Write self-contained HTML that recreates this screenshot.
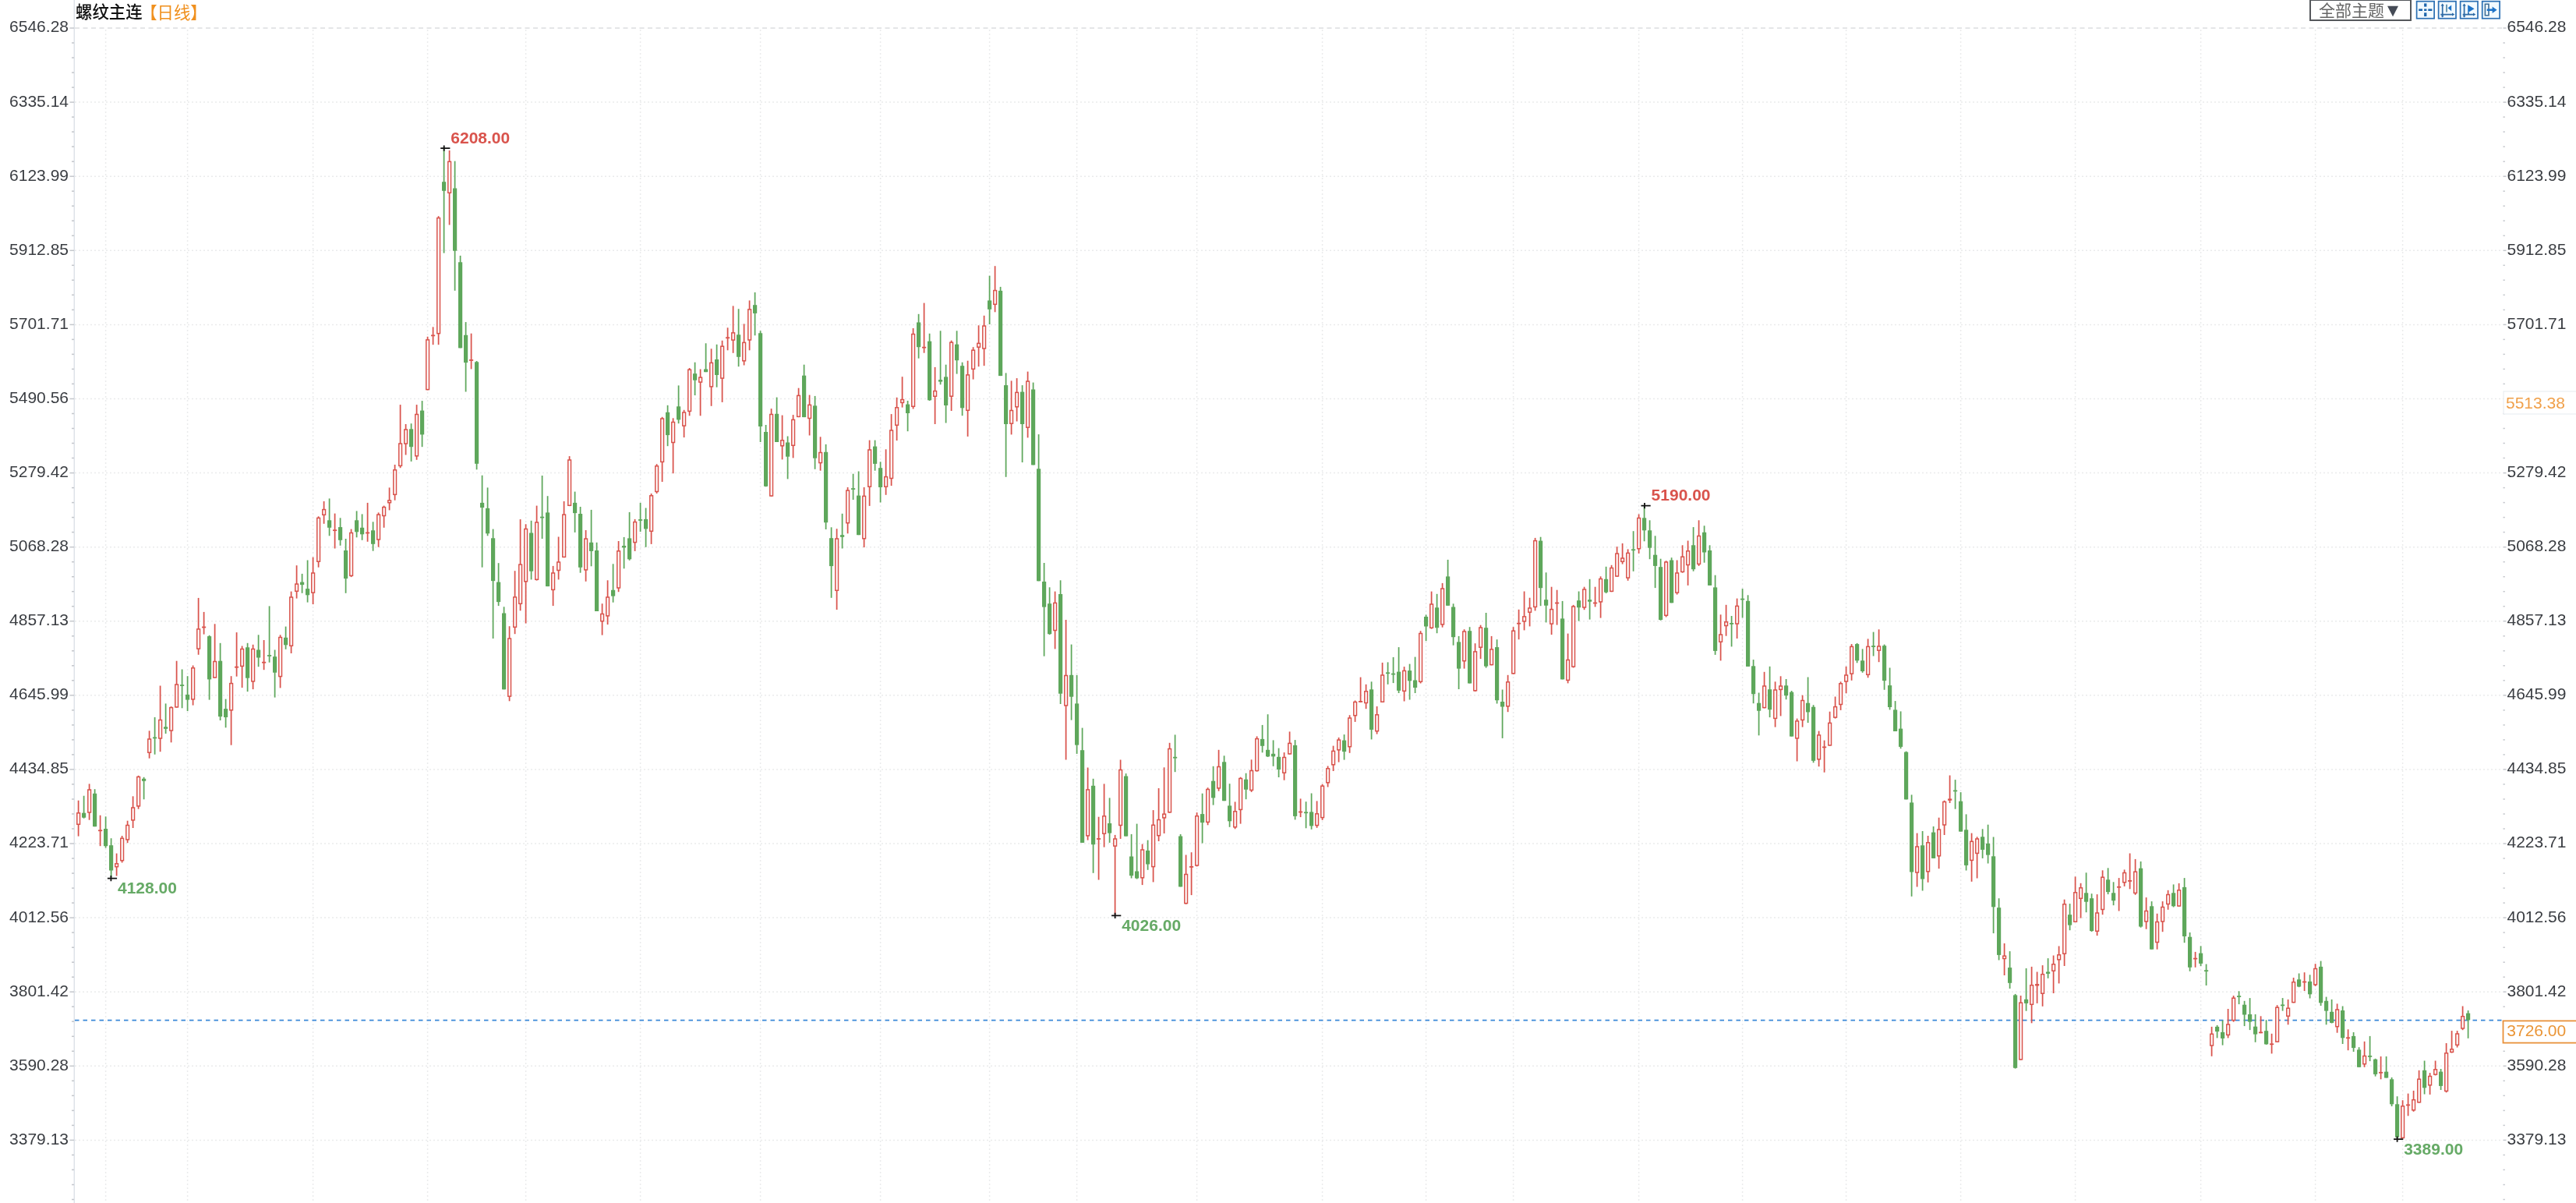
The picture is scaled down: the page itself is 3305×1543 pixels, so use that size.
<!DOCTYPE html>
<html><head><meta charset="utf-8"><title>螺纹主连</title>
<style>
html,body{margin:0;padding:0;background:#fff;}
body{width:3305px;height:1543px;position:relative;overflow:hidden;}
.t{position:absolute;white-space:nowrap;font-family:"Liberation Sans","Noto Sans CJK SC",sans-serif;}
#w{position:absolute;left:0;top:0;width:3305px;height:1543px;filter:blur(0.5px);}
</style></head><body><div id="w">
<svg width="3305" height="1543" viewBox="0 0 3305 1543" style="position:absolute;left:0;top:0"><g stroke="#eaebec" stroke-width="1.5" stroke-dasharray="2 3"><line x1="96" y1="131.1" x2="3211" y2="131.1"/><line x1="96" y1="226.2" x2="3211" y2="226.2"/><line x1="96" y1="321.3" x2="3211" y2="321.3"/><line x1="96" y1="416.4" x2="3211" y2="416.4"/><line x1="96" y1="511.5" x2="3211" y2="511.5"/><line x1="96" y1="606.6" x2="3211" y2="606.6"/><line x1="96" y1="701.7" x2="3211" y2="701.7"/><line x1="96" y1="796.7" x2="3211" y2="796.7"/><line x1="96" y1="891.8" x2="3211" y2="891.8"/><line x1="96" y1="986.9" x2="3211" y2="986.9"/><line x1="96" y1="1082" x2="3211" y2="1082"/><line x1="96" y1="1177.1" x2="3211" y2="1177.1"/><line x1="96" y1="1272.2" x2="3211" y2="1272.2"/><line x1="96" y1="1367.3" x2="3211" y2="1367.3"/><line x1="96" y1="1462.4" x2="3211" y2="1462.4"/><line x1="135.6" y1="38" x2="135.6" y2="1543"/><line x1="240.6" y1="38" x2="240.6" y2="1543"/><line x1="401.6" y1="38" x2="401.6" y2="1543"/><line x1="548.6" y1="38" x2="548.6" y2="1543"/><line x1="674.6" y1="38" x2="674.6" y2="1543"/><line x1="821.6" y1="38" x2="821.6" y2="1543"/><line x1="975.6" y1="38" x2="975.6" y2="1543"/><line x1="1129.6" y1="38" x2="1129.6" y2="1543"/><line x1="1269.6" y1="38" x2="1269.6" y2="1543"/><line x1="1381.6" y1="38" x2="1381.6" y2="1543"/><line x1="1535.6" y1="38" x2="1535.6" y2="1543"/><line x1="1696.6" y1="38" x2="1696.6" y2="1543"/><line x1="1829.6" y1="38" x2="1829.6" y2="1543"/><line x1="1941.6" y1="38" x2="1941.6" y2="1543"/><line x1="2102.6" y1="38" x2="2102.6" y2="1543"/><line x1="2235.6" y1="38" x2="2235.6" y2="1543"/><line x1="2368.6" y1="38" x2="2368.6" y2="1543"/><line x1="2515.6" y1="38" x2="2515.6" y2="1543"/><line x1="2662.6" y1="38" x2="2662.6" y2="1543"/><line x1="2823.6" y1="38" x2="2823.6" y2="1543"/><line x1="2970.6" y1="38" x2="2970.6" y2="1543"/><line x1="3082.6" y1="38" x2="3082.6" y2="1543"/></g><line x1="96" y1="36" x2="3211" y2="36" stroke="#e4e5e7" stroke-width="1.8" stroke-dasharray="6 4.5"/><line x1="95.3" y1="0" x2="95.3" y2="1543" stroke="#dde2e8" stroke-width="1.5"/><g stroke="#c4c7cc" stroke-width="1.5"><line x1="89.5" y1="36" x2="95" y2="36"/><line x1="3211.5" y1="36" x2="3215.5" y2="36"/><line x1="92" y1="55" x2="95" y2="55"/><line x1="3211.5" y1="55" x2="3213.8" y2="55"/><line x1="92" y1="74" x2="95" y2="74"/><line x1="3211.5" y1="74" x2="3213.8" y2="74"/><line x1="92" y1="93.1" x2="95" y2="93.1"/><line x1="3211.5" y1="93.1" x2="3213.8" y2="93.1"/><line x1="92" y1="112.1" x2="95" y2="112.1"/><line x1="3211.5" y1="112.1" x2="3213.8" y2="112.1"/><line x1="89.5" y1="131.1" x2="95" y2="131.1"/><line x1="3211.5" y1="131.1" x2="3215.5" y2="131.1"/><line x1="92" y1="150.1" x2="95" y2="150.1"/><line x1="3211.5" y1="150.1" x2="3213.8" y2="150.1"/><line x1="92" y1="169.1" x2="95" y2="169.1"/><line x1="3211.5" y1="169.1" x2="3213.8" y2="169.1"/><line x1="92" y1="188.1" x2="95" y2="188.1"/><line x1="3211.5" y1="188.1" x2="3213.8" y2="188.1"/><line x1="92" y1="207.2" x2="95" y2="207.2"/><line x1="3211.5" y1="207.2" x2="3213.8" y2="207.2"/><line x1="89.5" y1="226.2" x2="95" y2="226.2"/><line x1="3211.5" y1="226.2" x2="3215.5" y2="226.2"/><line x1="92" y1="245.2" x2="95" y2="245.2"/><line x1="3211.5" y1="245.2" x2="3213.8" y2="245.2"/><line x1="92" y1="264.2" x2="95" y2="264.2"/><line x1="3211.5" y1="264.2" x2="3213.8" y2="264.2"/><line x1="92" y1="283.2" x2="95" y2="283.2"/><line x1="3211.5" y1="283.2" x2="3213.8" y2="283.2"/><line x1="92" y1="302.3" x2="95" y2="302.3"/><line x1="3211.5" y1="302.3" x2="3213.8" y2="302.3"/><line x1="89.5" y1="321.3" x2="95" y2="321.3"/><line x1="3211.5" y1="321.3" x2="3215.5" y2="321.3"/><line x1="92" y1="340.3" x2="95" y2="340.3"/><line x1="3211.5" y1="340.3" x2="3213.8" y2="340.3"/><line x1="92" y1="359.3" x2="95" y2="359.3"/><line x1="3211.5" y1="359.3" x2="3213.8" y2="359.3"/><line x1="92" y1="378.3" x2="95" y2="378.3"/><line x1="3211.5" y1="378.3" x2="3213.8" y2="378.3"/><line x1="92" y1="397.4" x2="95" y2="397.4"/><line x1="3211.5" y1="397.4" x2="3213.8" y2="397.4"/><line x1="89.5" y1="416.4" x2="95" y2="416.4"/><line x1="3211.5" y1="416.4" x2="3215.5" y2="416.4"/><line x1="92" y1="435.4" x2="95" y2="435.4"/><line x1="3211.5" y1="435.4" x2="3213.8" y2="435.4"/><line x1="92" y1="454.4" x2="95" y2="454.4"/><line x1="3211.5" y1="454.4" x2="3213.8" y2="454.4"/><line x1="92" y1="473.4" x2="95" y2="473.4"/><line x1="3211.5" y1="473.4" x2="3213.8" y2="473.4"/><line x1="92" y1="492.4" x2="95" y2="492.4"/><line x1="3211.5" y1="492.4" x2="3213.8" y2="492.4"/><line x1="89.5" y1="511.5" x2="95" y2="511.5"/><line x1="3211.5" y1="511.5" x2="3215.5" y2="511.5"/><line x1="92" y1="530.5" x2="95" y2="530.5"/><line x1="3211.5" y1="530.5" x2="3213.8" y2="530.5"/><line x1="92" y1="549.5" x2="95" y2="549.5"/><line x1="3211.5" y1="549.5" x2="3213.8" y2="549.5"/><line x1="92" y1="568.5" x2="95" y2="568.5"/><line x1="3211.5" y1="568.5" x2="3213.8" y2="568.5"/><line x1="92" y1="587.5" x2="95" y2="587.5"/><line x1="3211.5" y1="587.5" x2="3213.8" y2="587.5"/><line x1="89.5" y1="606.6" x2="95" y2="606.6"/><line x1="3211.5" y1="606.6" x2="3215.5" y2="606.6"/><line x1="92" y1="625.6" x2="95" y2="625.6"/><line x1="3211.5" y1="625.6" x2="3213.8" y2="625.6"/><line x1="92" y1="644.6" x2="95" y2="644.6"/><line x1="3211.5" y1="644.6" x2="3213.8" y2="644.6"/><line x1="92" y1="663.6" x2="95" y2="663.6"/><line x1="3211.5" y1="663.6" x2="3213.8" y2="663.6"/><line x1="92" y1="682.6" x2="95" y2="682.6"/><line x1="3211.5" y1="682.6" x2="3213.8" y2="682.6"/><line x1="89.5" y1="701.7" x2="95" y2="701.7"/><line x1="3211.5" y1="701.7" x2="3215.5" y2="701.7"/><line x1="92" y1="720.7" x2="95" y2="720.7"/><line x1="3211.5" y1="720.7" x2="3213.8" y2="720.7"/><line x1="92" y1="739.7" x2="95" y2="739.7"/><line x1="3211.5" y1="739.7" x2="3213.8" y2="739.7"/><line x1="92" y1="758.7" x2="95" y2="758.7"/><line x1="3211.5" y1="758.7" x2="3213.8" y2="758.7"/><line x1="92" y1="777.7" x2="95" y2="777.7"/><line x1="3211.5" y1="777.7" x2="3213.8" y2="777.7"/><line x1="89.5" y1="796.7" x2="95" y2="796.7"/><line x1="3211.5" y1="796.7" x2="3215.5" y2="796.7"/><line x1="92" y1="815.8" x2="95" y2="815.8"/><line x1="3211.5" y1="815.8" x2="3213.8" y2="815.8"/><line x1="92" y1="834.8" x2="95" y2="834.8"/><line x1="3211.5" y1="834.8" x2="3213.8" y2="834.8"/><line x1="92" y1="853.8" x2="95" y2="853.8"/><line x1="3211.5" y1="853.8" x2="3213.8" y2="853.8"/><line x1="92" y1="872.8" x2="95" y2="872.8"/><line x1="3211.5" y1="872.8" x2="3213.8" y2="872.8"/><line x1="89.5" y1="891.8" x2="95" y2="891.8"/><line x1="3211.5" y1="891.8" x2="3215.5" y2="891.8"/><line x1="92" y1="910.9" x2="95" y2="910.9"/><line x1="3211.5" y1="910.9" x2="3213.8" y2="910.9"/><line x1="92" y1="929.9" x2="95" y2="929.9"/><line x1="3211.5" y1="929.9" x2="3213.8" y2="929.9"/><line x1="92" y1="948.9" x2="95" y2="948.9"/><line x1="3211.5" y1="948.9" x2="3213.8" y2="948.9"/><line x1="92" y1="967.9" x2="95" y2="967.9"/><line x1="3211.5" y1="967.9" x2="3213.8" y2="967.9"/><line x1="89.5" y1="986.9" x2="95" y2="986.9"/><line x1="3211.5" y1="986.9" x2="3215.5" y2="986.9"/><line x1="92" y1="1005.9" x2="95" y2="1005.9"/><line x1="3211.5" y1="1005.9" x2="3213.8" y2="1005.9"/><line x1="92" y1="1025" x2="95" y2="1025"/><line x1="3211.5" y1="1025" x2="3213.8" y2="1025"/><line x1="92" y1="1044" x2="95" y2="1044"/><line x1="3211.5" y1="1044" x2="3213.8" y2="1044"/><line x1="92" y1="1063" x2="95" y2="1063"/><line x1="3211.5" y1="1063" x2="3213.8" y2="1063"/><line x1="89.5" y1="1082" x2="95" y2="1082"/><line x1="3211.5" y1="1082" x2="3215.5" y2="1082"/><line x1="92" y1="1101" x2="95" y2="1101"/><line x1="3211.5" y1="1101" x2="3213.8" y2="1101"/><line x1="92" y1="1120.1" x2="95" y2="1120.1"/><line x1="3211.5" y1="1120.1" x2="3213.8" y2="1120.1"/><line x1="92" y1="1139.1" x2="95" y2="1139.1"/><line x1="3211.5" y1="1139.1" x2="3213.8" y2="1139.1"/><line x1="92" y1="1158.1" x2="95" y2="1158.1"/><line x1="3211.5" y1="1158.1" x2="3213.8" y2="1158.1"/><line x1="89.5" y1="1177.1" x2="95" y2="1177.1"/><line x1="3211.5" y1="1177.1" x2="3215.5" y2="1177.1"/><line x1="92" y1="1196.1" x2="95" y2="1196.1"/><line x1="3211.5" y1="1196.1" x2="3213.8" y2="1196.1"/><line x1="92" y1="1215.2" x2="95" y2="1215.2"/><line x1="3211.5" y1="1215.2" x2="3213.8" y2="1215.2"/><line x1="92" y1="1234.2" x2="95" y2="1234.2"/><line x1="3211.5" y1="1234.2" x2="3213.8" y2="1234.2"/><line x1="92" y1="1253.2" x2="95" y2="1253.2"/><line x1="3211.5" y1="1253.2" x2="3213.8" y2="1253.2"/><line x1="89.5" y1="1272.2" x2="95" y2="1272.2"/><line x1="3211.5" y1="1272.2" x2="3215.5" y2="1272.2"/><line x1="92" y1="1291.2" x2="95" y2="1291.2"/><line x1="3211.5" y1="1291.2" x2="3213.8" y2="1291.2"/><line x1="92" y1="1310.2" x2="95" y2="1310.2"/><line x1="3211.5" y1="1310.2" x2="3213.8" y2="1310.2"/><line x1="92" y1="1329.3" x2="95" y2="1329.3"/><line x1="3211.5" y1="1329.3" x2="3213.8" y2="1329.3"/><line x1="92" y1="1348.3" x2="95" y2="1348.3"/><line x1="3211.5" y1="1348.3" x2="3213.8" y2="1348.3"/><line x1="89.5" y1="1367.3" x2="95" y2="1367.3"/><line x1="3211.5" y1="1367.3" x2="3215.5" y2="1367.3"/><line x1="92" y1="1386.3" x2="95" y2="1386.3"/><line x1="3211.5" y1="1386.3" x2="3213.8" y2="1386.3"/><line x1="92" y1="1405.3" x2="95" y2="1405.3"/><line x1="3211.5" y1="1405.3" x2="3213.8" y2="1405.3"/><line x1="92" y1="1424.4" x2="95" y2="1424.4"/><line x1="3211.5" y1="1424.4" x2="3213.8" y2="1424.4"/><line x1="92" y1="1443.4" x2="95" y2="1443.4"/><line x1="3211.5" y1="1443.4" x2="3213.8" y2="1443.4"/><line x1="89.5" y1="1462.4" x2="95" y2="1462.4"/><line x1="3211.5" y1="1462.4" x2="3215.5" y2="1462.4"/><line x1="92" y1="1481.4" x2="95" y2="1481.4"/><line x1="3211.5" y1="1481.4" x2="3213.8" y2="1481.4"/><line x1="92" y1="1500.4" x2="95" y2="1500.4"/><line x1="3211.5" y1="1500.4" x2="3213.8" y2="1500.4"/><line x1="92" y1="1519.5" x2="95" y2="1519.5"/><line x1="3211.5" y1="1519.5" x2="3213.8" y2="1519.5"/><line x1="92" y1="1538.5" x2="95" y2="1538.5"/><line x1="3211.5" y1="1538.5" x2="3213.8" y2="1538.5"/></g><g font-family="Liberation Sans, Arial, sans-serif" font-size="21" fill="#3a3d42"><text x="88" y="41.4" text-anchor="end">6546.28</text><text x="3216.5" y="41.4">6546.28</text><text x="88" y="136.5" text-anchor="end">6335.14</text><text x="3216.5" y="136.5">6335.14</text><text x="88" y="231.6" text-anchor="end">6123.99</text><text x="3216.5" y="231.6">6123.99</text><text x="88" y="326.7" text-anchor="end">5912.85</text><text x="3216.5" y="326.7">5912.85</text><text x="88" y="421.8" text-anchor="end">5701.71</text><text x="3216.5" y="421.8">5701.71</text><text x="88" y="516.9" text-anchor="end">5490.56</text><text x="88" y="612" text-anchor="end">5279.42</text><text x="3216.5" y="612">5279.42</text><text x="88" y="707.1" text-anchor="end">5068.28</text><text x="3216.5" y="707.1">5068.28</text><text x="88" y="802.1" text-anchor="end">4857.13</text><text x="3216.5" y="802.1">4857.13</text><text x="88" y="897.2" text-anchor="end">4645.99</text><text x="3216.5" y="897.2">4645.99</text><text x="88" y="992.3" text-anchor="end">4434.85</text><text x="3216.5" y="992.3">4434.85</text><text x="88" y="1087.4" text-anchor="end">4223.71</text><text x="3216.5" y="1087.4">4223.71</text><text x="88" y="1182.5" text-anchor="end">4012.56</text><text x="3216.5" y="1182.5">4012.56</text><text x="88" y="1277.6" text-anchor="end">3801.42</text><text x="3216.5" y="1277.6">3801.42</text><text x="88" y="1372.7" text-anchor="end">3590.28</text><text x="3216.5" y="1372.7">3590.28</text><text x="88" y="1467.8" text-anchor="end">3379.13</text><text x="3216.5" y="1467.8">3379.13</text></g><line x1="96" y1="1308.6" x2="3211" y2="1308.6" stroke="#3a88d8" stroke-width="1.9" stroke-dasharray="5.5 5"/><g stroke="#d9534c" stroke-width="1.75"><line x1="100.6" y1="1026.7" x2="100.6" y2="1072.6"/><line x1="114.6" y1="1005.4" x2="114.6" y2="1051.7"/><line x1="128.6" y1="1045.7" x2="128.6" y2="1085.2"/><line x1="149.6" y1="1094.6" x2="149.6" y2="1123.5"/><line x1="156.6" y1="1072" x2="156.6" y2="1106.5"/><line x1="163.6" y1="1052.7" x2="163.6" y2="1081.2"/><line x1="170.6" y1="1021.3" x2="170.6" y2="1062"/><line x1="177.6" y1="994.8" x2="177.6" y2="1037.7"/><line x1="191.6" y1="937.3" x2="191.6" y2="972.7"/><line x1="205.6" y1="879.5" x2="205.6" y2="964.2"/><line x1="219.6" y1="906.1" x2="219.6" y2="952.3"/><line x1="226.6" y1="847.7" x2="226.6" y2="907.6"/><line x1="247.6" y1="853.5" x2="247.6" y2="904.6"/><line x1="254.6" y1="766.9" x2="254.6" y2="839.8"/><line x1="261.6" y1="784.9" x2="261.6" y2="813.6"/><line x1="275.6" y1="800.3" x2="275.6" y2="869.7"/><line x1="296.6" y1="867.2" x2="296.6" y2="955.7"/><line x1="303.6" y1="811.1" x2="303.6" y2="867.7"/><line x1="310.6" y1="828.5" x2="310.6" y2="882.1"/><line x1="324.6" y1="826.8" x2="324.6" y2="884.1"/><line x1="338.6" y1="821" x2="338.6" y2="859.2"/><line x1="359.6" y1="814.3" x2="359.6" y2="882.4"/><line x1="373.6" y1="758.6" x2="373.6" y2="838"/><line x1="380.6" y1="725.2" x2="380.6" y2="767.6"/><line x1="401.6" y1="714.7" x2="401.6" y2="775.1"/><line x1="408.6" y1="662.3" x2="408.6" y2="727.7"/><line x1="415.6" y1="642.9" x2="415.6" y2="671.8"/><line x1="429.6" y1="658.6" x2="429.6" y2="703.5"/><line x1="450.6" y1="678.6" x2="450.6" y2="740.1"/><line x1="471.6" y1="644.9" x2="471.6" y2="694.8"/><line x1="485.6" y1="657.4" x2="485.6" y2="701.7"/><line x1="492.6" y1="648.6" x2="492.6" y2="676.8"/><line x1="499.6" y1="625.4" x2="499.6" y2="654.4"/><line x1="506.6" y1="596" x2="506.6" y2="641.7"/><line x1="513.6" y1="519.1" x2="513.6" y2="600.2"/><line x1="520.6" y1="544" x2="520.6" y2="583.5"/><line x1="534.6" y1="519.1" x2="534.6" y2="589.8"/><line x1="548.6" y1="431.8" x2="548.6" y2="500.4"/><line x1="555.6" y1="419.4" x2="555.6" y2="442.2"/><line x1="562.6" y1="277.2" x2="562.6" y2="442.2"/><line x1="576.6" y1="192.9" x2="576.6" y2="288.5"/><line x1="604.6" y1="427.7" x2="604.6" y2="473.4"/><line x1="653.6" y1="803.2" x2="653.6" y2="899.3"/><line x1="660.6" y1="732.2" x2="660.6" y2="813.2"/><line x1="667.6" y1="666.1" x2="667.6" y2="783.3"/><line x1="674.6" y1="672.3" x2="674.6" y2="799.5"/><line x1="688.6" y1="648.6" x2="688.6" y2="744.6"/><line x1="709.6" y1="725.9" x2="709.6" y2="777.1"/><line x1="716.6" y1="688.5" x2="716.6" y2="743.4"/><line x1="723.6" y1="642.9" x2="723.6" y2="715.2"/><line x1="730.6" y1="585.1" x2="730.6" y2="649.1"/><line x1="751.6" y1="680" x2="751.6" y2="745.8"/><line x1="772.6" y1="774.2" x2="772.6" y2="814.6"/><line x1="779.6" y1="744.3" x2="779.6" y2="801.1"/><line x1="793.6" y1="694" x2="793.6" y2="759.2"/><line x1="814.6" y1="665.9" x2="814.6" y2="706.9"/><line x1="835.6" y1="633" x2="835.6" y2="697.9"/><line x1="842.6" y1="595.2" x2="842.6" y2="633"/><line x1="849.6" y1="534.8" x2="849.6" y2="618"/><line x1="863.6" y1="536.3" x2="863.6" y2="607.2"/><line x1="877.6" y1="525.8" x2="877.6" y2="561.1"/><line x1="884.6" y1="472" x2="884.6" y2="533.3"/><line x1="898.6" y1="473.5" x2="898.6" y2="533.3"/><line x1="912.6" y1="447.3" x2="912.6" y2="520.8"/><line x1="926.6" y1="436.8" x2="926.6" y2="515.9"/><line x1="933.6" y1="420.3" x2="933.6" y2="449.3"/><line x1="940.6" y1="392.4" x2="940.6" y2="452.8"/><line x1="954.6" y1="415.4" x2="954.6" y2="468.5"/><line x1="961.6" y1="385.4" x2="961.6" y2="449.3"/><line x1="989.6" y1="524.1" x2="989.6" y2="636.8"/><line x1="1003.6" y1="532.6" x2="1003.6" y2="589.4"/><line x1="1017.6" y1="532.1" x2="1017.6" y2="587.4"/><line x1="1024.6" y1="497.7" x2="1024.6" y2="535.1"/><line x1="1038.6" y1="506.6" x2="1038.6" y2="558.5"/><line x1="1052.6" y1="560.3" x2="1052.6" y2="603.7"/><line x1="1073.6" y1="678.2" x2="1073.6" y2="782"/><line x1="1087.6" y1="625" x2="1087.6" y2="684.3"/><line x1="1108.6" y1="625" x2="1108.6" y2="702.1"/><line x1="1115.6" y1="564.6" x2="1115.6" y2="648.9"/><line x1="1136.6" y1="576.3" x2="1136.6" y2="634.8"/><line x1="1143.6" y1="531.1" x2="1143.6" y2="623.1"/><line x1="1150.6" y1="509.8" x2="1150.6" y2="565.1"/><line x1="1157.6" y1="483.2" x2="1157.6" y2="522.6"/><line x1="1171.6" y1="421" x2="1171.6" y2="524.5"/><line x1="1185.6" y1="388.6" x2="1185.6" y2="452.7"/><line x1="1199.6" y1="470.9" x2="1199.6" y2="544"/><line x1="1220.6" y1="436.7" x2="1220.6" y2="527"/><line x1="1241.6" y1="462.7" x2="1241.6" y2="559.9"/><line x1="1248.6" y1="445.2" x2="1248.6" y2="486.6"/><line x1="1255.6" y1="417.3" x2="1255.6" y2="470.2"/><line x1="1262.6" y1="404.8" x2="1262.6" y2="469.2"/><line x1="1276.6" y1="341.2" x2="1276.6" y2="400.3"/><line x1="1297.6" y1="488.4" x2="1297.6" y2="557.4"/><line x1="1304.6" y1="485.1" x2="1304.6" y2="540.5"/><line x1="1318.6" y1="476.6" x2="1318.6" y2="561.4"/><line x1="1353.6" y1="758.6" x2="1353.6" y2="832.4"/><line x1="1367.6" y1="795" x2="1367.6" y2="974.5"/><line x1="1395.6" y1="984.5" x2="1395.6" y2="1077.6"/><line x1="1409.6" y1="1047.7" x2="1409.6" y2="1128.5"/><line x1="1416.6" y1="1005.4" x2="1416.6" y2="1086.6"/><line x1="1430.6" y1="1070.9" x2="1430.6" y2="1174"/><line x1="1437.6" y1="974.5" x2="1437.6" y2="1075.9"/><line x1="1465.6" y1="1082.6" x2="1465.6" y2="1135.1"/><line x1="1479.6" y1="1039.1" x2="1479.6" y2="1131.4"/><line x1="1486.6" y1="1011" x2="1486.6" y2="1079"/><line x1="1493.6" y1="984.3" x2="1493.6" y2="1069"/><line x1="1500.6" y1="952.8" x2="1500.6" y2="1042.6"/><line x1="1521.6" y1="1096.5" x2="1521.6" y2="1159.8"/><line x1="1528.6" y1="1093.2" x2="1528.6" y2="1148.1"/><line x1="1535.6" y1="1042.1" x2="1535.6" y2="1111.4"/><line x1="1549.6" y1="1010.2" x2="1549.6" y2="1058.3"/><line x1="1563.6" y1="961.8" x2="1563.6" y2="1014.7"/><line x1="1584.6" y1="1028.4" x2="1584.6" y2="1063.3"/><line x1="1591.6" y1="996.7" x2="1591.6" y2="1056.6"/><line x1="1605.6" y1="974.3" x2="1605.6" y2="1015.9"/><line x1="1612.6" y1="944.4" x2="1612.6" y2="989.7"/><line x1="1647.6" y1="965.1" x2="1647.6" y2="1000.7"/><line x1="1654.6" y1="938.4" x2="1654.6" y2="967.6"/><line x1="1668.6" y1="1024.4" x2="1668.6" y2="1048.1"/><line x1="1689.6" y1="1027.4" x2="1689.6" y2="1061.8"/><line x1="1696.6" y1="1005.7" x2="1696.6" y2="1051.9"/><line x1="1703.6" y1="982.5" x2="1703.6" y2="1009.5"/><line x1="1710.6" y1="956.6" x2="1710.6" y2="989"/><line x1="1717.6" y1="945.9" x2="1717.6" y2="977.6"/><line x1="1731.6" y1="917.2" x2="1731.6" y2="965.8"/><line x1="1738.6" y1="898.5" x2="1738.6" y2="925.9"/><line x1="1745.6" y1="868.6" x2="1745.6" y2="901"/><line x1="1752.6" y1="877.8" x2="1752.6" y2="909.2"/><line x1="1766.6" y1="906" x2="1766.6" y2="941.6"/><line x1="1773.6" y1="849.9" x2="1773.6" y2="901"/><line x1="1801.6" y1="855.1" x2="1801.6" y2="899.5"/><line x1="1822.6" y1="809.2" x2="1822.6" y2="876.5"/><line x1="1836.6" y1="758.6" x2="1836.6" y2="806.7"/><line x1="1850.6" y1="747.9" x2="1850.6" y2="804.7"/><line x1="1878.6" y1="807.2" x2="1878.6" y2="857.6"/><line x1="1892.6" y1="825.2" x2="1892.6" y2="887"/><line x1="1899.6" y1="801.7" x2="1899.6" y2="845.1"/><line x1="1913.6" y1="815.9" x2="1913.6" y2="853.3"/><line x1="1934.6" y1="865.8" x2="1934.6" y2="913.2"/><line x1="1941.6" y1="804.2" x2="1941.6" y2="864.6"/><line x1="1948.6" y1="781.8" x2="1948.6" y2="820.2"/><line x1="1955.6" y1="758.5" x2="1955.6" y2="808.4"/><line x1="1962.6" y1="766.7" x2="1962.6" y2="803.4"/><line x1="1969.6" y1="689.9" x2="1969.6" y2="783.4"/><line x1="1990.6" y1="752.7" x2="1990.6" y2="814.1"/><line x1="1997.6" y1="756.7" x2="1997.6" y2="801.6"/><line x1="2011.6" y1="812.6" x2="2011.6" y2="876.4"/><line x1="2018.6" y1="775.9" x2="2018.6" y2="856.5"/><line x1="2032.6" y1="752.7" x2="2032.6" y2="782.2"/><line x1="2046.6" y1="752.7" x2="2046.6" y2="778.4"/><line x1="2053.6" y1="739.3" x2="2053.6" y2="792.6"/><line x1="2067.6" y1="724.8" x2="2067.6" y2="759.2"/><line x1="2074.6" y1="701.1" x2="2074.6" y2="739.8"/><line x1="2081.6" y1="696.9" x2="2081.6" y2="723.6"/><line x1="2088.6" y1="704.4" x2="2088.6" y2="744.8"/><line x1="2102.6" y1="659.5" x2="2102.6" y2="709.9"/><line x1="2137.6" y1="719.2" x2="2137.6" y2="791.5"/><line x1="2151.6" y1="718.5" x2="2151.6" y2="762.6"/><line x1="2158.6" y1="699.3" x2="2158.6" y2="734.7"/><line x1="2165.6" y1="693.5" x2="2165.6" y2="750.9"/><line x1="2179.6" y1="667.3" x2="2179.6" y2="725.9"/><line x1="2207.6" y1="788.3" x2="2207.6" y2="847.4"/><line x1="2214.6" y1="775.8" x2="2214.6" y2="815.7"/><line x1="2228.6" y1="767.6" x2="2228.6" y2="819"/><line x1="2263.6" y1="861.8" x2="2263.6" y2="908.4"/><line x1="2277.6" y1="874.3" x2="2277.6" y2="932.6"/><line x1="2284.6" y1="867.3" x2="2284.6" y2="918.4"/><line x1="2305.6" y1="921.6" x2="2305.6" y2="976.5"/><line x1="2312.6" y1="891.7" x2="2312.6" y2="932.6"/><line x1="2333.6" y1="937.6" x2="2333.6" y2="983.2"/><line x1="2340.6" y1="949.6" x2="2340.6" y2="990.7"/><line x1="2347.6" y1="912.7" x2="2347.6" y2="956.6"/><line x1="2354.6" y1="893.5" x2="2354.6" y2="921.6"/><line x1="2361.6" y1="874.3" x2="2361.6" y2="910.9"/><line x1="2368.6" y1="854.8" x2="2368.6" y2="889.2"/><line x1="2375.6" y1="826.1" x2="2375.6" y2="872.8"/><line x1="2396.6" y1="819.4" x2="2396.6" y2="869.3"/><line x1="2410.6" y1="807.3" x2="2410.6" y2="849.2"/><line x1="2459.6" y1="1068.6" x2="2459.6" y2="1137.5"/><line x1="2473.6" y1="1072" x2="2473.6" y2="1131.8"/><line x1="2487.6" y1="1048.7" x2="2487.6" y2="1114.2"/><line x1="2494.6" y1="1026.7" x2="2494.6" y2="1071"/><line x1="2501.6" y1="994.5" x2="2501.6" y2="1030"/><line x1="2529.6" y1="1068.6" x2="2529.6" y2="1130.8"/><line x1="2536.6" y1="1073.3" x2="2536.6" y2="1126.5"/><line x1="2571.6" y1="1210" x2="2571.6" y2="1251"/><line x1="2592.6" y1="1277" x2="2592.6" y2="1359.6"/><line x1="2606.6" y1="1239.9" x2="2606.6" y2="1312.3"/><line x1="2613.6" y1="1246.5" x2="2613.6" y2="1286.9"/><line x1="2620.6" y1="1238.1" x2="2620.6" y2="1290.8"/><line x1="2634.6" y1="1225.5" x2="2634.6" y2="1274"/><line x1="2641.6" y1="1213.5" x2="2641.6" y2="1261.4"/><line x1="2648.6" y1="1153.7" x2="2648.6" y2="1239"/><line x1="2662.6" y1="1124.4" x2="2662.6" y2="1183"/><line x1="2669.6" y1="1132.8" x2="2669.6" y2="1177.6"/><line x1="2690.6" y1="1147.1" x2="2690.6" y2="1200.1"/><line x1="2697.6" y1="1116.3" x2="2697.6" y2="1173.2"/><line x1="2718.6" y1="1126.1" x2="2718.6" y2="1168.5"/><line x1="2725.6" y1="1115.4" x2="2725.6" y2="1136.9"/><line x1="2732.6" y1="1094.5" x2="2732.6" y2="1140.3"/><line x1="2739.6" y1="1101.9" x2="2739.6" y2="1147.8"/><line x1="2753.6" y1="1151.1" x2="2753.6" y2="1191.7"/><line x1="2767.6" y1="1171.8" x2="2767.6" y2="1217.7"/><line x1="2774.6" y1="1156.1" x2="2774.6" y2="1195.2"/><line x1="2781.6" y1="1141.8" x2="2781.6" y2="1166.8"/><line x1="2795.6" y1="1132.9" x2="2795.6" y2="1162.8"/><line x1="2816.6" y1="1220.9" x2="2816.6" y2="1240.8"/><line x1="2837.6" y1="1316.9" x2="2837.6" y2="1354.8"/><line x1="2858.6" y1="1294" x2="2858.6" y2="1331.4"/><line x1="2865.6" y1="1277" x2="2865.6" y2="1310.7"/><line x1="2900.6" y1="1303.3" x2="2900.6" y2="1325.3"/><line x1="2914.6" y1="1325.8" x2="2914.6" y2="1351.4"/><line x1="2921.6" y1="1289.2" x2="2921.6" y2="1336.8"/><line x1="2935.6" y1="1281.9" x2="2935.6" y2="1314.3"/><line x1="2942.6" y1="1254" x2="2942.6" y2="1286.3"/><line x1="2956.6" y1="1247.2" x2="2956.6" y2="1271"/><line x1="2970.6" y1="1236.2" x2="2970.6" y2="1264.9"/><line x1="2998.6" y1="1287.4" x2="2998.6" y2="1324.7"/><line x1="3012.6" y1="1320.3" x2="3012.6" y2="1347.2"/><line x1="3033.6" y1="1335.8" x2="3033.6" y2="1368.8"/><line x1="3054.6" y1="1355" x2="3054.6" y2="1384.3"/><line x1="3082.6" y1="1411.2" x2="3082.6" y2="1460.2"/><line x1="3089.6" y1="1402.6" x2="3089.6" y2="1431.3"/><line x1="3096.6" y1="1398.9" x2="3096.6" y2="1425.8"/><line x1="3103.6" y1="1372.8" x2="3103.6" y2="1414.5"/><line x1="3117.6" y1="1376.1" x2="3117.6" y2="1403.9"/><line x1="3124.6" y1="1360.5" x2="3124.6" y2="1379.4"/><line x1="3138.6" y1="1338" x2="3138.6" y2="1401.3"/><line x1="3145.6" y1="1322.1" x2="3145.6" y2="1350.5"/><line x1="3152.6" y1="1322.1" x2="3152.6" y2="1343.5"/><line x1="3159.6" y1="1290.5" x2="3159.6" y2="1321.2"/></g><g stroke="#5ea75b" stroke-width="1.75"><line x1="107.6" y1="1020.7" x2="107.6" y2="1049.7"/><line x1="121.6" y1="1012.2" x2="121.6" y2="1060.2"/><line x1="135.6" y1="1047.3" x2="135.6" y2="1087.6"/><line x1="142.6" y1="1075.2" x2="142.6" y2="1125.5"/><line x1="184.6" y1="996.8" x2="184.6" y2="1025.3"/><line x1="198.6" y1="919.9" x2="198.6" y2="967.7"/><line x1="212.6" y1="902.4" x2="212.6" y2="941"/><line x1="233.6" y1="858.5" x2="233.6" y2="908.3"/><line x1="240.6" y1="867.2" x2="240.6" y2="912.1"/><line x1="268.6" y1="814.8" x2="268.6" y2="897.6"/><line x1="282.6" y1="824.8" x2="282.6" y2="924"/><line x1="289.6" y1="896.6" x2="289.6" y2="933.3"/><line x1="317.6" y1="824.8" x2="317.6" y2="887.1"/><line x1="331.6" y1="814.3" x2="331.6" y2="855.2"/><line x1="345.6" y1="777.4" x2="345.6" y2="849.7"/><line x1="352.6" y1="833.5" x2="352.6" y2="894.6"/><line x1="366.6" y1="803.6" x2="366.6" y2="832.8"/><line x1="387.6" y1="735.9" x2="387.6" y2="760.8"/><line x1="394.6" y1="718.5" x2="394.6" y2="772.6"/><line x1="422.6" y1="639.4" x2="422.6" y2="687.3"/><line x1="436.6" y1="664.3" x2="436.6" y2="699.8"/><line x1="443.6" y1="691" x2="443.6" y2="760.8"/><line x1="457.6" y1="655.4" x2="457.6" y2="689.3"/><line x1="464.6" y1="659.4" x2="464.6" y2="692.8"/><line x1="478.6" y1="669.3" x2="478.6" y2="706.7"/><line x1="527.6" y1="543.2" x2="527.6" y2="591.9"/><line x1="541.6" y1="514.1" x2="541.6" y2="573.2"/><line x1="569.6" y1="188.7" x2="569.6" y2="324.6"/><line x1="583.6" y1="206.6" x2="583.6" y2="372.8"/><line x1="590.6" y1="327.9" x2="590.6" y2="446.4"/><line x1="597.6" y1="413.1" x2="597.6" y2="502.5"/><line x1="611.6" y1="463" x2="611.6" y2="602.3"/><line x1="618.6" y1="609.7" x2="618.6" y2="727.7"/><line x1="625.6" y1="625.4" x2="625.6" y2="687.3"/><line x1="632.6" y1="678.6" x2="632.6" y2="819"/><line x1="639.6" y1="722.2" x2="639.6" y2="777.1"/><line x1="646.6" y1="778.3" x2="646.6" y2="884.3"/><line x1="681.6" y1="667.8" x2="681.6" y2="743.4"/><line x1="695.6" y1="610" x2="695.6" y2="691"/><line x1="702.6" y1="636.2" x2="702.6" y2="752.1"/><line x1="737.6" y1="630.6" x2="737.6" y2="682.9"/><line x1="744.6" y1="650" x2="744.6" y2="734.7"/><line x1="758.6" y1="653.9" x2="758.6" y2="726.3"/><line x1="765.6" y1="695.8" x2="765.6" y2="784"/><line x1="786.6" y1="723.3" x2="786.6" y2="772.7"/><line x1="800.6" y1="688.9" x2="800.6" y2="729.3"/><line x1="807.6" y1="656.9" x2="807.6" y2="718.8"/><line x1="821.6" y1="644.9" x2="821.6" y2="682"/><line x1="828.6" y1="651.5" x2="828.6" y2="701.8"/><line x1="856.6" y1="519.8" x2="856.6" y2="572.2"/><line x1="870.6" y1="494.4" x2="870.6" y2="543.2"/><line x1="891.6" y1="464.7" x2="891.6" y2="507.1"/><line x1="905.6" y1="440.3" x2="905.6" y2="477.2"/><line x1="919.6" y1="441.8" x2="919.6" y2="496.7"/><line x1="947.6" y1="396.2" x2="947.6" y2="470.2"/><line x1="968.6" y1="375" x2="968.6" y2="430.3"/><line x1="975.6" y1="424.3" x2="975.6" y2="567"/><line x1="982.6" y1="545" x2="982.6" y2="624.3"/><line x1="996.6" y1="509.6" x2="996.6" y2="567"/><line x1="1010.6" y1="559.5" x2="1010.6" y2="614.4"/><line x1="1031.6" y1="467.7" x2="1031.6" y2="535.1"/><line x1="1045.6" y1="507.9" x2="1045.6" y2="601.8"/><line x1="1059.6" y1="569.9" x2="1059.6" y2="679"/><line x1="1066.6" y1="676.3" x2="1066.6" y2="766.8"/><line x1="1080.6" y1="658.8" x2="1080.6" y2="703.5"/><line x1="1094.6" y1="607.7" x2="1094.6" y2="641"/><line x1="1101.6" y1="604.5" x2="1101.6" y2="686.2"/><line x1="1122.6" y1="564.6" x2="1122.6" y2="603.7"/><line x1="1129.6" y1="592.3" x2="1129.6" y2="644.4"/><line x1="1164.6" y1="514" x2="1164.6" y2="553.2"/><line x1="1178.6" y1="402.8" x2="1178.6" y2="459.7"/><line x1="1192.6" y1="427.8" x2="1192.6" y2="514"/><line x1="1206.6" y1="424.3" x2="1206.6" y2="493.3"/><line x1="1213.6" y1="467.7" x2="1213.6" y2="542.5"/><line x1="1227.6" y1="424.3" x2="1227.6" y2="479.6"/><line x1="1234.6" y1="464.7" x2="1234.6" y2="533.2"/><line x1="1269.6" y1="353.7" x2="1269.6" y2="416"/><line x1="1283.6" y1="367.9" x2="1283.6" y2="482.1"/><line x1="1290.6" y1="478.4" x2="1290.6" y2="611.8"/><line x1="1311.6" y1="494.1" x2="1311.6" y2="593.1"/><line x1="1325.6" y1="490.6" x2="1325.6" y2="596.4"/><line x1="1332.6" y1="557.1" x2="1332.6" y2="745.3"/><line x1="1339.6" y1="722" x2="1339.6" y2="841.7"/><line x1="1346.6" y1="753.3" x2="1346.6" y2="814.1"/><line x1="1360.6" y1="744.3" x2="1360.6" y2="903"/><line x1="1374.6" y1="826.6" x2="1374.6" y2="923.6"/><line x1="1381.6" y1="865.8" x2="1381.6" y2="966.9"/><line x1="1388.6" y1="933.6" x2="1388.6" y2="1080.9"/><line x1="1402.6" y1="998.8" x2="1402.6" y2="1119.8"/><line x1="1423.6" y1="1023.4" x2="1423.6" y2="1080.9"/><line x1="1444.6" y1="992.1" x2="1444.6" y2="1072.6"/><line x1="1451.6" y1="1069.9" x2="1451.6" y2="1126.5"/><line x1="1458.6" y1="1056.6" x2="1458.6" y2="1127.5"/><line x1="1472.6" y1="1077.6" x2="1472.6" y2="1115.8"/><line x1="1507.6" y1="942.4" x2="1507.6" y2="990.2"/><line x1="1514.6" y1="1070" x2="1514.6" y2="1137.4"/><line x1="1542.6" y1="1017.7" x2="1542.6" y2="1081.5"/><line x1="1556.6" y1="982.8" x2="1556.6" y2="1032.6"/><line x1="1570.6" y1="969.3" x2="1570.6" y2="1027.2"/><line x1="1577.6" y1="1005.2" x2="1577.6" y2="1060.8"/><line x1="1598.6" y1="991.7" x2="1598.6" y2="1025.2"/><line x1="1619.6" y1="929.9" x2="1619.6" y2="965.3"/><line x1="1626.6" y1="916.2" x2="1626.6" y2="971"/><line x1="1633.6" y1="949.4" x2="1633.6" y2="982.8"/><line x1="1640.6" y1="959.6" x2="1640.6" y2="997"/><line x1="1661.6" y1="949.1" x2="1661.6" y2="1051.4"/><line x1="1675.6" y1="1028.2" x2="1675.6" y2="1062.3"/><line x1="1682.6" y1="1017.5" x2="1682.6" y2="1063.8"/><line x1="1724.6" y1="942.1" x2="1724.6" y2="974.6"/><line x1="1759.6" y1="874.3" x2="1759.6" y2="948.4"/><line x1="1780.6" y1="849.4" x2="1780.6" y2="877.8"/><line x1="1787.6" y1="842.9" x2="1787.6" y2="876.1"/><line x1="1794.6" y1="830.1" x2="1794.6" y2="889"/><line x1="1808.6" y1="851.6" x2="1808.6" y2="897.5"/><line x1="1815.6" y1="842.6" x2="1815.6" y2="889"/><line x1="1829.6" y1="788.5" x2="1829.6" y2="822.2"/><line x1="1843.6" y1="761.8" x2="1843.6" y2="812.2"/><line x1="1857.6" y1="717.9" x2="1857.6" y2="776.8"/><line x1="1864.6" y1="774.3" x2="1864.6" y2="827.7"/><line x1="1871.6" y1="815.9" x2="1871.6" y2="884"/><line x1="1885.6" y1="804.2" x2="1885.6" y2="876.5"/><line x1="1906.6" y1="786" x2="1906.6" y2="856.6"/><line x1="1920.6" y1="820.2" x2="1920.6" y2="902.5"/><line x1="1927.6" y1="884.5" x2="1927.6" y2="946.9"/><line x1="1976.6" y1="688.7" x2="1976.6" y2="777.2"/><line x1="1983.6" y1="734.3" x2="1983.6" y2="798.4"/><line x1="2004.6" y1="770.9" x2="2004.6" y2="871.4"/><line x1="2025.6" y1="758.5" x2="2025.6" y2="796.6"/><line x1="2039.6" y1="742.8" x2="2039.6" y2="794.6"/><line x1="2060.6" y1="726.8" x2="2060.6" y2="761"/><line x1="2095.6" y1="681.2" x2="2095.6" y2="732.8"/><line x1="2109.6" y1="648.6" x2="2109.6" y2="694.3"/><line x1="2116.6" y1="667.3" x2="2116.6" y2="717.2"/><line x1="2123.6" y1="687.3" x2="2123.6" y2="754.1"/><line x1="2130.6" y1="716.7" x2="2130.6" y2="795.8"/><line x1="2144.6" y1="715.2" x2="2144.6" y2="773.3"/><line x1="2172.6" y1="676.1" x2="2172.6" y2="732.7"/><line x1="2186.6" y1="674.3" x2="2186.6" y2="721.7"/><line x1="2193.6" y1="699.3" x2="2193.6" y2="750.9"/><line x1="2200.6" y1="737.7" x2="2200.6" y2="839.9"/><line x1="2221.6" y1="790" x2="2221.6" y2="829.4"/><line x1="2235.6" y1="755.1" x2="2235.6" y2="792.5"/><line x1="2242.6" y1="763.3" x2="2242.6" y2="854.9"/><line x1="2249.6" y1="846.1" x2="2249.6" y2="902.2"/><line x1="2256.6" y1="888.5" x2="2256.6" y2="943.3"/><line x1="2270.6" y1="854.8" x2="2270.6" y2="920.1"/><line x1="2291.6" y1="871" x2="2291.6" y2="897.2"/><line x1="2298.6" y1="886" x2="2298.6" y2="944.6"/><line x1="2319.6" y1="868.5" x2="2319.6" y2="927.1"/><line x1="2326.6" y1="904.2" x2="2326.6" y2="978.3"/><line x1="2382.6" y1="824.9" x2="2382.6" y2="850.3"/><line x1="2389.6" y1="832.4" x2="2389.6" y2="862.8"/><line x1="2403.6" y1="810.6" x2="2403.6" y2="841.5"/><line x1="2417.6" y1="826.6" x2="2417.6" y2="884.8"/><line x1="2424.6" y1="856.5" x2="2424.6" y2="910.4"/><line x1="2431.6" y1="899.1" x2="2431.6" y2="938"/><line x1="2438.6" y1="912.4" x2="2438.6" y2="960.2"/><line x1="2445.6" y1="963.6" x2="2445.6" y2="1025.4"/><line x1="2452.6" y1="1019.4" x2="2452.6" y2="1149.8"/><line x1="2466.6" y1="1066" x2="2466.6" y2="1142.5"/><line x1="2480.6" y1="1060" x2="2480.6" y2="1100.9"/><line x1="2508.6" y1="1000.1" x2="2508.6" y2="1037.7"/><line x1="2515.6" y1="1016.1" x2="2515.6" y2="1066.6"/><line x1="2522.6" y1="1044.4" x2="2522.6" y2="1116.5"/><line x1="2543.6" y1="1063.3" x2="2543.6" y2="1100.9"/><line x1="2550.6" y1="1057.7" x2="2550.6" y2="1107.5"/><line x1="2557.6" y1="1073.5" x2="2557.6" y2="1197.1"/><line x1="2564.6" y1="1152.2" x2="2564.6" y2="1231.5"/><line x1="2578.6" y1="1220.1" x2="2578.6" y2="1268"/><line x1="2585.6" y1="1274.9" x2="2585.6" y2="1370.6"/><line x1="2599.6" y1="1242" x2="2599.6" y2="1296.7"/><line x1="2627.6" y1="1229.1" x2="2627.6" y2="1254.8"/><line x1="2655.6" y1="1159.1" x2="2655.6" y2="1193.2"/><line x1="2676.6" y1="1119.3" x2="2676.6" y2="1170.2"/><line x1="2683.6" y1="1146.2" x2="2683.6" y2="1195"/><line x1="2704.6" y1="1113.3" x2="2704.6" y2="1147.1"/><line x1="2711.6" y1="1131.3" x2="2711.6" y2="1161.2"/><line x1="2746.6" y1="1104.9" x2="2746.6" y2="1189.7"/><line x1="2760.6" y1="1156.1" x2="2760.6" y2="1217.7"/><line x1="2788.6" y1="1134.4" x2="2788.6" y2="1163.5"/><line x1="2802.6" y1="1126.1" x2="2802.6" y2="1209.2"/><line x1="2809.6" y1="1196" x2="2809.6" y2="1245.8"/><line x1="2823.6" y1="1213.4" x2="2823.6" y2="1239.1"/><line x1="2830.6" y1="1236.6" x2="2830.6" y2="1264"/><line x1="2844.6" y1="1314.9" x2="2844.6" y2="1331.4"/><line x1="2851.6" y1="1308.9" x2="2851.6" y2="1340.6"/><line x1="2872.6" y1="1271.3" x2="2872.6" y2="1288.1"/><line x1="2879.6" y1="1283.8" x2="2879.6" y2="1316.1"/><line x1="2886.6" y1="1280.1" x2="2886.6" y2="1321.1"/><line x1="2893.6" y1="1301" x2="2893.6" y2="1336.8"/><line x1="2907.6" y1="1308.3" x2="2907.6" y2="1339.9"/><line x1="2928.6" y1="1280.1" x2="2928.6" y2="1296.6"/><line x1="2949.6" y1="1248.5" x2="2949.6" y2="1266.2"/><line x1="2963.6" y1="1250.3" x2="2963.6" y2="1280.5"/><line x1="2977.6" y1="1232.6" x2="2977.6" y2="1290"/><line x1="2984.6" y1="1278.6" x2="2984.6" y2="1314.3"/><line x1="2991.6" y1="1281.9" x2="2991.6" y2="1312.5"/><line x1="3005.6" y1="1290.5" x2="3005.6" y2="1339"/><line x1="3019.6" y1="1324" x2="3019.6" y2="1349"/><line x1="3026.6" y1="1343.2" x2="3026.6" y2="1368.8"/><line x1="3040.6" y1="1328.9" x2="3040.6" y2="1361.1"/><line x1="3047.6" y1="1357.8" x2="3047.6" y2="1380.6"/><line x1="3061.6" y1="1355" x2="3061.6" y2="1382.5"/><line x1="3068.6" y1="1381.9" x2="3068.6" y2="1419"/><line x1="3075.6" y1="1406.2" x2="3075.6" y2="1461.1"/><line x1="3110.6" y1="1360.5" x2="3110.6" y2="1403.5"/><line x1="3131.6" y1="1371" x2="3131.6" y2="1398"/><line x1="3166.6" y1="1296" x2="3166.6" y2="1331.8"/></g><g fill="#fff" stroke="#d9534c" stroke-width="1.5"><rect x="98.8" y="1042.8" width="3.7" height="14.5"/><rect x="112.8" y="1013" width="3.7" height="29"/><rect x="147.8" y="1107.8" width="3.7" height="3.9"/><rect x="154.8" y="1075.3" width="3.7" height="28.4"/><rect x="161.8" y="1058.5" width="3.7" height="18.4"/><rect x="168.8" y="1036" width="3.7" height="15.9"/><rect x="175.8" y="996.5" width="3.7" height="37.4"/><rect x="189.8" y="948" width="3.7" height="17.2"/><rect x="203.8" y="923.5" width="3.7" height="23.5"/><rect x="217.8" y="907.6" width="3.7" height="29.4"/><rect x="224.8" y="878" width="3.7" height="28.9"/><rect x="245.8" y="856.8" width="3.7" height="40.1"/><rect x="252.8" y="806.9" width="3.7" height="25.2"/><rect x="273.8" y="848.5" width="3.7" height="20.5"/><rect x="294.8" y="876.6" width="3.7" height="34.2"/><rect x="308.8" y="832.5" width="3.7" height="21.9"/><rect x="322.8" y="832.5" width="3.7" height="41.4"/><rect x="357.8" y="817.5" width="3.7" height="50.1"/><rect x="371.8" y="766" width="3.7" height="62.3"/><rect x="378.8" y="749.1" width="3.7" height="9.2"/><rect x="399.8" y="735" width="3.7" height="25.1"/><rect x="406.8" y="664.4" width="3.7" height="55.8"/><rect x="413.8" y="653.6" width="3.7" height="6.7"/><rect x="448.8" y="683.5" width="3.7" height="54.9"/><rect x="483.8" y="660.1" width="3.7" height="31.9"/><rect x="490.8" y="650.6" width="3.7" height="10.9"/><rect x="497.8" y="641.9" width="3.7" height="2.8"/><rect x="504.8" y="602.8" width="3.7" height="31.5"/><rect x="511.8" y="569" width="3.7" height="28.4"/><rect x="518.8" y="551" width="3.7" height="18"/><rect x="532.8" y="531.5" width="3.7" height="53.3"/><rect x="546.8" y="435.9" width="3.7" height="63.7"/><rect x="560.8" y="279.6" width="3.7" height="148.1"/><rect x="574.8" y="207.3" width="3.7" height="40"/><rect x="651.8" y="819" width="3.7" height="74.1"/><rect x="658.8" y="765.9" width="3.7" height="38.4"/><rect x="665.8" y="724.1" width="3.7" height="50.2"/><rect x="672.8" y="678.5" width="3.7" height="67.3"/><rect x="686.8" y="670" width="3.7" height="73.3"/><rect x="707.8" y="735" width="3.7" height="21.4"/><rect x="714.8" y="721" width="3.7" height="10.5"/><rect x="721.8" y="660.1" width="3.7" height="54.3"/><rect x="728.8" y="590" width="3.7" height="58.3"/><rect x="749.8" y="691.1" width="3.7" height="39.8"/><rect x="770.8" y="787.5" width="3.7" height="9.2"/><rect x="777.8" y="766" width="3.7" height="23.9"/><rect x="791.8" y="706.8" width="3.7" height="47.2"/><rect x="812.8" y="669.6" width="3.7" height="26"/><rect x="833.8" y="635.8" width="3.7" height="45.5"/><rect x="840.8" y="597.8" width="3.7" height="32.7"/><rect x="847.8" y="537" width="3.7" height="55.4"/><rect x="861.8" y="541.5" width="3.7" height="26"/><rect x="875.8" y="529" width="3.7" height="17.1"/><rect x="882.8" y="474.2" width="3.7" height="53.2"/><rect x="896.8" y="484.1" width="3.7" height="6"/><rect x="910.8" y="465.4" width="3.7" height="30.5"/><rect x="924.8" y="444.2" width="3.7" height="40.9"/><rect x="938.8" y="426.9" width="3.7" height="9.2"/><rect x="952.8" y="439.4" width="3.7" height="23.4"/><rect x="959.8" y="396.9" width="3.7" height="39.1"/><rect x="987.8" y="531.5" width="3.7" height="104.5"/><rect x="1001.8" y="564.8" width="3.7" height="7"/><rect x="1015.8" y="538.4" width="3.7" height="32.9"/><rect x="1022.7" y="507.4" width="3.7" height="27"/><rect x="1036.8" y="519.4" width="3.7" height="17.1"/><rect x="1050.8" y="580.5" width="3.7" height="13.1"/><rect x="1071.8" y="691" width="3.7" height="66.3"/><rect x="1085.8" y="629.1" width="3.7" height="41.6"/><rect x="1106.8" y="636.4" width="3.7" height="54.4"/><rect x="1113.8" y="577" width="3.7" height="47.2"/><rect x="1134.8" y="611.6" width="3.7" height="12.6"/><rect x="1141.8" y="552" width="3.7" height="61.5"/><rect x="1148.8" y="522.8" width="3.7" height="22.5"/><rect x="1155.8" y="512.6" width="3.7" height="3.8"/><rect x="1169.8" y="428.6" width="3.7" height="92.7"/><rect x="1197.8" y="501.6" width="3.7" height="6.7"/><rect x="1218.8" y="439.2" width="3.7" height="69"/><rect x="1239.8" y="480.9" width="3.7" height="45.4"/><rect x="1246.8" y="449.2" width="3.7" height="24.1"/><rect x="1253.8" y="440.4" width="3.7" height="4.8"/><rect x="1260.8" y="418.1" width="3.7" height="28.9"/><rect x="1274.8" y="372.6" width="3.7" height="17.7"/><rect x="1295.8" y="526.5" width="3.7" height="16.7"/><rect x="1302.8" y="503.4" width="3.7" height="18.4"/><rect x="1316.8" y="489.1" width="3.7" height="59.1"/><rect x="1351.8" y="773.4" width="3.7" height="35.1"/><rect x="1365.8" y="866.5" width="3.7" height="38.4"/><rect x="1393.8" y="1012.9" width="3.7" height="59"/><rect x="1414.8" y="1046.8" width="3.7" height="22.4"/><rect x="1428.8" y="1076" width="3.7" height="9.1"/><rect x="1435.8" y="987.5" width="3.7" height="71"/><rect x="1463.8" y="1090" width="3.7" height="35.8"/><rect x="1477.8" y="1058.3" width="3.7" height="53.3"/><rect x="1484.8" y="1051.5" width="3.7" height="20.2"/><rect x="1491.8" y="1044.2" width="3.7" height="4.7"/><rect x="1498.8" y="960.5" width="3.7" height="81.3"/><rect x="1519.8" y="1121.5" width="3.7" height="37.1"/><rect x="1533.8" y="1046.7" width="3.7" height="63.3"/><rect x="1547.8" y="1012.5" width="3.7" height="41.9"/><rect x="1561.8" y="983.5" width="3.7" height="27.4"/><rect x="1582.8" y="1040.8" width="3.7" height="20"/><rect x="1589.8" y="998.5" width="3.7" height="39.9"/><rect x="1603.8" y="988.5" width="3.7" height="24.9"/><rect x="1610.8" y="947.6" width="3.7" height="40.9"/><rect x="1645.8" y="971.5" width="3.7" height="19.7"/><rect x="1652.8" y="953.4" width="3.7" height="13.5"/><rect x="1687.8" y="1043.8" width="3.7" height="14.8"/><rect x="1694.8" y="1008.2" width="3.7" height="40.4"/><rect x="1701.8" y="985.8" width="3.7" height="18"/><rect x="1708.8" y="963.4" width="3.7" height="17.4"/><rect x="1715.8" y="949.1" width="3.7" height="12.7"/><rect x="1729.8" y="921" width="3.7" height="36.7"/><rect x="1736.8" y="900.5" width="3.7" height="17.2"/><rect x="1750.8" y="886.8" width="3.7" height="14.7"/><rect x="1764.8" y="916.8" width="3.7" height="20.9"/><rect x="1771.8" y="866" width="3.7" height="34.2"/><rect x="1799.8" y="860.4" width="3.7" height="25.9"/><rect x="1820.8" y="812.5" width="3.7" height="61.8"/><rect x="1834.8" y="775" width="3.7" height="30.2"/><rect x="1848.8" y="755" width="3.7" height="45.9"/><rect x="1876.8" y="810" width="3.7" height="37.7"/><rect x="1890.8" y="835.9" width="3.7" height="49.9"/><rect x="1897.8" y="805" width="3.7" height="25.2"/><rect x="1911.8" y="832.9" width="3.7" height="19.7"/><rect x="1932.8" y="874.8" width="3.7" height="31"/><rect x="1939.8" y="809.2" width="3.7" height="54.6"/><rect x="1953.8" y="790.9" width="3.7" height="6"/><rect x="1960.8" y="780" width="3.7" height="5.2"/><rect x="1967.8" y="693.6" width="3.7" height="84.8"/><rect x="1988.8" y="781.6" width="3.7" height="18.5"/><rect x="2009.8" y="846.5" width="3.7" height="25.9"/><rect x="2016.8" y="778" width="3.7" height="77"/><rect x="2030.8" y="756" width="3.7" height="23"/><rect x="2051.8" y="742.5" width="3.7" height="29.4"/><rect x="2065.8" y="728.5" width="3.7" height="29.9"/><rect x="2072.8" y="710.1" width="3.7" height="28.9"/><rect x="2079.8" y="716" width="3.7" height="4.3"/><rect x="2086.8" y="709.4" width="3.7" height="31.7"/><rect x="2100.8" y="664.5" width="3.7" height="39.2"/><rect x="2135.8" y="721" width="3.7" height="68.3"/><rect x="2149.8" y="735" width="3.7" height="25.1"/><rect x="2156.8" y="714.2" width="3.7" height="19.2"/><rect x="2163.8" y="706.8" width="3.7" height="17.7"/><rect x="2177.8" y="687.5" width="3.7" height="35.9"/><rect x="2205.8" y="814" width="3.7" height="9.2"/><rect x="2212.8" y="797.8" width="3.7" height="4.7"/><rect x="2226.8" y="777.4" width="3.7" height="22.6"/><rect x="2261.8" y="880" width="3.7" height="27.6"/><rect x="2275.8" y="885" width="3.7" height="36.4"/><rect x="2282.8" y="880" width="3.7" height="4.4"/><rect x="2303.8" y="924.9" width="3.7" height="22"/><rect x="2310.8" y="898.5" width="3.7" height="24.9"/><rect x="2331.8" y="942.9" width="3.7" height="30.9"/><rect x="2345.8" y="927.4" width="3.7" height="28.5"/><rect x="2352.8" y="906.6" width="3.7" height="13.5"/><rect x="2359.8" y="876.8" width="3.7" height="26.7"/><rect x="2366.8" y="866" width="3.7" height="8"/><rect x="2373.8" y="829.4" width="3.7" height="34.7"/><rect x="2394.8" y="829.4" width="3.7" height="35.9"/><rect x="2408.8" y="829" width="3.7" height="5.2"/><rect x="2457.8" y="1086" width="3.7" height="33"/><rect x="2471.8" y="1080.8" width="3.7" height="37"/><rect x="2485.8" y="1064" width="3.7" height="33.8"/><rect x="2492.8" y="1028.5" width="3.7" height="29.5"/><rect x="2499.8" y="1025.2" width="3.7" height="0.8"/><rect x="2527.8" y="1079.3" width="3.7" height="24.1"/><rect x="2534.8" y="1076" width="3.7" height="18.4"/><rect x="2569.8" y="1226.2" width="3.7" height="3.3"/><rect x="2590.8" y="1286.2" width="3.7" height="72.7"/><rect x="2604.8" y="1263.7" width="3.7" height="24.6"/><rect x="2611.8" y="1262.8" width="3.7" height="0.9"/><rect x="2618.8" y="1249.7" width="3.7" height="24.5"/><rect x="2632.8" y="1236.8" width="3.7" height="8.4"/><rect x="2639.8" y="1224.8" width="3.7" height="6"/><rect x="2646.8" y="1159.8" width="3.7" height="63.4"/><rect x="2660.8" y="1144.8" width="3.7" height="37.4"/><rect x="2667.8" y="1138.8" width="3.7" height="13.5"/><rect x="2688.8" y="1171" width="3.7" height="23.3"/><rect x="2695.8" y="1125.2" width="3.7" height="41.3"/><rect x="2723.8" y="1119.5" width="3.7" height="12.2"/><rect x="2737.8" y="1118.2" width="3.7" height="27.2"/><rect x="2751.8" y="1168.5" width="3.7" height="13.4"/><rect x="2765.8" y="1182.5" width="3.7" height="26"/><rect x="2772.8" y="1163.5" width="3.7" height="18.4"/><rect x="2779.8" y="1147.5" width="3.7" height="12"/><rect x="2793.8" y="1141.8" width="3.7" height="20.2"/><rect x="2835.8" y="1326.3" width="3.7" height="14.7"/><rect x="2856.8" y="1314" width="3.7" height="13.4"/><rect x="2863.8" y="1280.2" width="3.7" height="28.4"/><rect x="2919.8" y="1292.2" width="3.7" height="43.9"/><rect x="2933.8" y="1293.2" width="3.7" height="10"/><rect x="2940.8" y="1259.7" width="3.7" height="25.9"/><rect x="2968.8" y="1242.5" width="3.7" height="20.4"/><rect x="2996.8" y="1295" width="3.7" height="21.7"/><rect x="3031.8" y="1354.5" width="3.7" height="10.2"/><rect x="3080.8" y="1418.8" width="3.7" height="40.6"/><rect x="3094.8" y="1410.7" width="3.7" height="13.1"/><rect x="3101.8" y="1384.2" width="3.7" height="29.6"/><rect x="3115.8" y="1380.5" width="3.7" height="11.3"/><rect x="3122.8" y="1371.8" width="3.7" height="6.3"/><rect x="3136.8" y="1350.8" width="3.7" height="48.6"/><rect x="3143.8" y="1345.8" width="3.7" height="3.6"/><rect x="3150.8" y="1326" width="3.7" height="14.3"/><rect x="3157.8" y="1303.7" width="3.7" height="15.3"/></g><g fill="#5ea75b"><rect x="105" y="1042.7" width="5.2" height="6"/><rect x="119" y="1017.8" width="5.2" height="42.4"/><rect x="133" y="1063" width="5.2" height="22.2"/><rect x="140" y="1084.2" width="5.2" height="32.3"/><rect x="182" y="998.8" width="5.2" height="3"/><rect x="210" y="932.3" width="5.2" height="2.5"/><rect x="238" y="890.9" width="5.2" height="6.7"/><rect x="266" y="816.1" width="5.2" height="55.3"/><rect x="280" y="847.7" width="5.2" height="71.4"/><rect x="287" y="909.1" width="5.2" height="10.9"/><rect x="315" y="830.3" width="5.2" height="39.4"/><rect x="329" y="833.5" width="5.2" height="10"/><rect x="350" y="842.2" width="5.2" height="20.5"/><rect x="364" y="817.8" width="5.2" height="9.5"/><rect x="385" y="746.6" width="5.2" height="3.5"/><rect x="392" y="755.1" width="5.2" height="8.2"/><rect x="420" y="667.3" width="5.2" height="9.5"/><rect x="434" y="676.1" width="5.2" height="16.7"/><rect x="441" y="706" width="5.2" height="36.1"/><rect x="455" y="667.3" width="5.2" height="15"/><rect x="462" y="676.8" width="5.2" height="8.5"/><rect x="476" y="680.3" width="5.2" height="17.5"/><rect x="525" y="550.3" width="5.2" height="22.9"/><rect x="539" y="526.6" width="5.2" height="30.8"/><rect x="567" y="233.2" width="5.2" height="11.6"/><rect x="581" y="241.5" width="5.2" height="80.2"/><rect x="588" y="336.3" width="5.2" height="110.1"/><rect x="595" y="429.8" width="5.2" height="35.3"/><rect x="609" y="464.3" width="5.2" height="130.5"/><rect x="616" y="644.9" width="5.2" height="6.2"/><rect x="623" y="651.9" width="5.2" height="32.4"/><rect x="630" y="690.3" width="5.2" height="54.8"/><rect x="637" y="746.6" width="5.2" height="25.5"/><rect x="644" y="786.5" width="5.2" height="97.8"/><rect x="679" y="683.5" width="5.2" height="49.2"/><rect x="700" y="657.4" width="5.2" height="94.7"/><rect x="735" y="644.9" width="5.2" height="13.2"/><rect x="742" y="659" width="5.2" height="68.8"/><rect x="756" y="695.8" width="5.2" height="11.1"/><rect x="763" y="706" width="5.2" height="78"/><rect x="784" y="756.8" width="5.2" height="7.8"/><rect x="798" y="700" width="5.2" height="2.4"/><rect x="805" y="690.4" width="5.2" height="26.9"/><rect x="826" y="665.9" width="5.2" height="12.5"/><rect x="854" y="528.8" width="5.2" height="29.3"/><rect x="868" y="521.3" width="5.2" height="17.1"/><rect x="889" y="479.2" width="5.2" height="8.5"/><rect x="903" y="473.5" width="5.2" height="3.7"/><rect x="917" y="461" width="5.2" height="20"/><rect x="945" y="429.3" width="5.2" height="28.5"/><rect x="966" y="391.2" width="5.2" height="10.7"/><rect x="973" y="427.3" width="5.2" height="119.7"/><rect x="980" y="554" width="5.2" height="69.8"/><rect x="994" y="530.8" width="5.2" height="36.2"/><rect x="1008" y="567.5" width="5.2" height="18.2"/><rect x="1029" y="481.7" width="5.2" height="53.4"/><rect x="1043" y="520.4" width="5.2" height="67.3"/><rect x="1057" y="579.8" width="5.2" height="90.4"/><rect x="1064" y="690.2" width="5.2" height="35.9"/><rect x="1078" y="686.2" width="5.2" height="2.6"/><rect x="1099" y="635.6" width="5.2" height="50.6"/><rect x="1120" y="572.6" width="5.2" height="22.3"/><rect x="1127" y="600.2" width="5.2" height="24.8"/><rect x="1162" y="518.6" width="5.2" height="11.4"/><rect x="1176" y="413.5" width="5.2" height="31.7"/><rect x="1190" y="437.7" width="5.2" height="75.6"/><rect x="1204" y="487.1" width="5.2" height="2.5"/><rect x="1211" y="483.4" width="5.2" height="36.6"/><rect x="1225" y="441.7" width="5.2" height="20.5"/><rect x="1232" y="469.2" width="5.2" height="54.1"/><rect x="1267" y="385.4" width="5.2" height="11.4"/><rect x="1281" y="372.9" width="5.2" height="109.2"/><rect x="1288" y="494.1" width="5.2" height="49.9"/><rect x="1309" y="502.6" width="5.2" height="41.4"/><rect x="1323" y="499.5" width="5.2" height="96.9"/><rect x="1330" y="601.3" width="5.2" height="144"/><rect x="1337" y="746" width="5.2" height="32.6"/><rect x="1344" y="774.2" width="5.2" height="39"/><rect x="1358" y="762" width="5.2" height="127.7"/><rect x="1372" y="865.8" width="5.2" height="27.9"/><rect x="1379" y="902.4" width="5.2" height="53.2"/><rect x="1386" y="962.2" width="5.2" height="118.7"/><rect x="1400" y="1007.8" width="5.2" height="75.4"/><rect x="1421" y="1056" width="5.2" height="12.6"/><rect x="1442" y="995.5" width="5.2" height="77.1"/><rect x="1449" y="1098.5" width="5.2" height="24.7"/><rect x="1456" y="1117.5" width="5.2" height="9"/><rect x="1470" y="1090.9" width="5.2" height="17.6"/><rect x="1512" y="1072.5" width="5.2" height="64.9"/><rect x="1540" y="1044.1" width="5.2" height="11"/><rect x="1554" y="1001.7" width="5.2" height="21.7"/><rect x="1568" y="977.3" width="5.2" height="49.9"/><rect x="1575" y="1033.4" width="5.2" height="19.9"/><rect x="1596" y="999.7" width="5.2" height="13"/><rect x="1617" y="947.9" width="5.2" height="8.9"/><rect x="1624" y="961.8" width="5.2" height="8.5"/><rect x="1631" y="966.8" width="5.2" height="3.5"/><rect x="1638" y="970.8" width="5.2" height="16.2"/><rect x="1659" y="955.9" width="5.2" height="91"/><rect x="1680" y="1041.4" width="5.2" height="18"/><rect x="1722" y="949.6" width="5.2" height="14.5"/><rect x="1757" y="884.3" width="5.2" height="51.6"/><rect x="1792" y="861.6" width="5.2" height="24.2"/><rect x="1806" y="860.1" width="5.2" height="13.2"/><rect x="1813" y="872.5" width="5.2" height="9.5"/><rect x="1827" y="791" width="5.2" height="12.5"/><rect x="1841" y="779.3" width="5.2" height="25.9"/><rect x="1855" y="739.4" width="5.2" height="37.4"/><rect x="1862" y="778.5" width="5.2" height="38.7"/><rect x="1869" y="823.4" width="5.2" height="34.2"/><rect x="1883" y="809.2" width="5.2" height="67.3"/><rect x="1904" y="805.2" width="5.2" height="49.4"/><rect x="1918" y="830.1" width="5.2" height="68.1"/><rect x="1925" y="900" width="5.2" height="6.5"/><rect x="1974" y="693.6" width="5.2" height="60.6"/><rect x="1981" y="769.2" width="5.2" height="7.5"/><rect x="2002" y="793.4" width="5.2" height="78"/><rect x="2023" y="770.2" width="5.2" height="9"/><rect x="2037" y="769.2" width="5.2" height="2.5"/><rect x="2058" y="742.8" width="5.2" height="16.9"/><rect x="2107" y="664.3" width="5.2" height="16"/><rect x="2114" y="680.3" width="5.2" height="22.4"/><rect x="2121" y="711.7" width="5.2" height="14.2"/><rect x="2128" y="727.2" width="5.2" height="67.8"/><rect x="2142" y="718.5" width="5.2" height="54.8"/><rect x="2170" y="699.3" width="5.2" height="30.9"/><rect x="2184" y="682.8" width="5.2" height="25.7"/><rect x="2191" y="706" width="5.2" height="44.9"/><rect x="2198" y="753.4" width="5.2" height="81.5"/><rect x="2240" y="770.8" width="5.2" height="84.1"/><rect x="2247" y="854.3" width="5.2" height="35.9"/><rect x="2254" y="901.7" width="5.2" height="10"/><rect x="2268" y="884.2" width="5.2" height="26"/><rect x="2289" y="879.3" width="5.2" height="12.9"/><rect x="2296" y="887.7" width="5.2" height="56.9"/><rect x="2317" y="901.7" width="5.2" height="11.7"/><rect x="2324" y="906.7" width="5.2" height="69.1"/><rect x="2380" y="826.1" width="5.2" height="21.2"/><rect x="2387" y="847.3" width="5.2" height="13.7"/><rect x="2415" y="828.2" width="5.2" height="44.9"/><rect x="2422" y="879.1" width="5.2" height="27.9"/><rect x="2429" y="910.4" width="5.2" height="27.6"/><rect x="2436" y="934.6" width="5.2" height="23.3"/><rect x="2443" y="964.6" width="5.2" height="60.8"/><rect x="2450" y="1029.4" width="5.2" height="89.1"/><rect x="2464" y="1084.3" width="5.2" height="43.2"/><rect x="2478" y="1067.6" width="5.2" height="33.3"/><rect x="2513" y="1027.7" width="5.2" height="38.9"/><rect x="2520" y="1064.3" width="5.2" height="45.6"/><rect x="2541" y="1073.3" width="5.2" height="16.6"/><rect x="2548" y="1081.9" width="5.2" height="14.7"/><rect x="2555" y="1098.3" width="5.2" height="65"/><rect x="2562" y="1164.2" width="5.2" height="60.7"/><rect x="2576" y="1241.1" width="5.2" height="19.7"/><rect x="2583" y="1276.4" width="5.2" height="93.4"/><rect x="2597" y="1281.8" width="5.2" height="5.1"/><rect x="2625" y="1246.5" width="5.2" height="2.4"/><rect x="2653" y="1173.2" width="5.2" height="13.4"/><rect x="2674" y="1145.3" width="5.2" height="11.4"/><rect x="2681" y="1152.2" width="5.2" height="41.9"/><rect x="2702" y="1128.3" width="5.2" height="15.8"/><rect x="2709" y="1145.3" width="5.2" height="9.9"/><rect x="2744" y="1113.7" width="5.2" height="74.8"/><rect x="2758" y="1162.3" width="5.2" height="55.4"/><rect x="2786" y="1145.3" width="5.2" height="17"/><rect x="2800" y="1137.9" width="5.2" height="63.1"/><rect x="2807" y="1201.7" width="5.2" height="39.1"/><rect x="2821" y="1222.6" width="5.2" height="13.3"/><rect x="2842" y="1316.9" width="5.2" height="6.2"/><rect x="2849" y="1323.9" width="5.2" height="8"/><rect x="2877" y="1288.7" width="5.2" height="12.8"/><rect x="2884" y="1301" width="5.2" height="9.6"/><rect x="2891" y="1316.7" width="5.2" height="9.9"/><rect x="2905" y="1322.2" width="5.2" height="17.2"/><rect x="2947" y="1256.3" width="5.2" height="9.2"/><rect x="2961" y="1258.9" width="5.2" height="16.4"/><rect x="2975" y="1239.9" width="5.2" height="46.4"/><rect x="2982" y="1283.8" width="5.2" height="12.8"/><rect x="2989" y="1297.8" width="5.2" height="14.1"/><rect x="3003" y="1296" width="5.2" height="35.3"/><rect x="3017" y="1328.9" width="5.2" height="15.2"/><rect x="3024" y="1346.4" width="5.2" height="22.4"/><rect x="3045" y="1358.7" width="5.2" height="19.2"/><rect x="3059" y="1374.6" width="5.2" height="7.9"/><rect x="3066" y="1384.3" width="5.2" height="32"/><rect x="3073" y="1416.3" width="5.2" height="42.4"/><rect x="3108" y="1372.8" width="5.2" height="22.5"/><rect x="3129" y="1374.6" width="5.2" height="18.3"/><rect x="3164" y="1299.6" width="5.2" height="8.8"/></g><g fill="#d9534c"><rect x="126" y="1064.4" width="5.2" height="1.75"/><rect x="259" y="803.6" width="5.2" height="1.75"/><rect x="301" y="854.8" width="5.2" height="1.75"/><rect x="336" y="848.8" width="5.2" height="1.75"/><rect x="427" y="679.3" width="5.2" height="1.75"/><rect x="469" y="682.6" width="5.2" height="1.75"/><rect x="553" y="429.5" width="5.2" height="1.75"/><rect x="602" y="461.1" width="5.2" height="1.75"/><rect x="931" y="432.4" width="5.2" height="1.75"/><rect x="1183" y="444.8" width="5.2" height="1.75"/><rect x="1407" y="1075.1" width="5.2" height="1.75"/><rect x="1526" y="1111" width="5.2" height="1.75"/><rect x="1666" y="1040.6" width="5.2" height="1.75"/><rect x="1743" y="899" width="5.2" height="1.75"/><rect x="1946" y="798.8" width="5.2" height="1.75"/><rect x="1995" y="772.6" width="5.2" height="1.75"/><rect x="2044" y="772.6" width="5.2" height="1.75"/><rect x="2338" y="957.5" width="5.2" height="1.75"/><rect x="2716" y="1136.9" width="5.2" height="1.75"/><rect x="2730" y="1129" width="5.2" height="1.75"/><rect x="2814" y="1228.7" width="5.2" height="1.75"/><rect x="2898" y="1323.5" width="5.2" height="1.75"/><rect x="2912" y="1338.4" width="5.2" height="1.75"/><rect x="2954" y="1258.6" width="5.2" height="1.75"/><rect x="3010" y="1330.4" width="5.2" height="1.75"/><rect x="3052" y="1374.9" width="5.2" height="1.75"/><rect x="3087" y="1416.5" width="5.2" height="1.75"/></g><g fill="#5ea75b"><rect x="196" y="945.5" width="5.2" height="1.75"/><rect x="231" y="878.2" width="5.2" height="1.75"/><rect x="343" y="840.1" width="5.2" height="1.75"/><rect x="693" y="662.7" width="5.2" height="1.75"/><rect x="819" y="666.1" width="5.2" height="1.75"/><rect x="1092" y="626.2" width="5.2" height="1.75"/><rect x="1505" y="970.8" width="5.2" height="1.75"/><rect x="1673" y="1041.4" width="5.2" height="1.75"/><rect x="1778" y="862.4" width="5.2" height="1.75"/><rect x="1785" y="863.7" width="5.2" height="1.75"/><rect x="2093" y="704.4" width="5.2" height="1.75"/><rect x="2219" y="799" width="5.2" height="1.75"/><rect x="2233" y="767.7" width="5.2" height="1.75"/><rect x="2401" y="828.2" width="5.2" height="1.75"/><rect x="2506" y="1013.5" width="5.2" height="1.75"/><rect x="2828" y="1244.3" width="5.2" height="1.75"/><rect x="2870" y="1277.2" width="5.2" height="1.75"/><rect x="2926" y="1288.5" width="5.2" height="1.75"/><rect x="3038" y="1354" width="5.2" height="1.75"/></g><g font-family="Liberation Sans, Arial, sans-serif" font-size="21" font-weight="bold"><path d="M565.2 190.2H577.4M569.7 186.6V193.8" stroke="#111" stroke-width="1.8" fill="none"/><text x="578.3" y="183.9" fill="#d9534c">6208.00</text><path d="M137.9 1126.7H150.1M142.4 1123.1V1130.3" stroke="#111" stroke-width="1.8" fill="none"/><text x="151" y="1146.2" fill="#66aa66">4128.00</text><path d="M1426.1 1174.3H1438.3M1430.6 1170.7V1177.9" stroke="#111" stroke-width="1.8" fill="none"/><text x="1439.2" y="1193.8" fill="#66aa66">4026.00</text><path d="M2105.5 648.6H2117.7M2110 645V652.2" stroke="#111" stroke-width="1.8" fill="none"/><text x="2118.6" y="642.3" fill="#d9534c">5190.00</text><path d="M3071.1 1461.1H3083.3M3075.6 1457.5V1464.7" stroke="#111" stroke-width="1.8" fill="none"/><text x="3084.2" y="1480.6" fill="#66aa66">3389.00</text></g><rect x="3211.5" y="1309.4" width="100" height="28.2" fill="#fff" stroke="#e8913a" stroke-width="1.8"/><text x="3216.3" y="1329.1" font-family="Liberation Sans, Arial, sans-serif" font-size="21" fill="#ea9536">3726.00</text><rect x="3212" y="502" width="100" height="29" fill="#fff" stroke="#e6ebf0" stroke-width="1"/><text x="3215" y="523.8" font-family="Liberation Sans, Arial, sans-serif" font-size="21" fill="#f0a04a">5513.38</text></svg>
<div class="t" style="left:97px;top:2px;font-size:21.4px;line-height:28px;color:#111;font-weight:500;">螺纹主连<span style="color:#f0901e;font-weight:400;margin-left:-2.4px;position:relative;top:1px">【日线】</span></div>
<div style="position:absolute;left:2963px;top:-1px;width:127px;height:23.5px;border:2px solid #55585c;background:#fff;"></div>
<div class="t" style="left:2975px;top:1px;font-size:21px;line-height:26px;color:#666;">全部主题</div><span style="position:absolute;left:3063px;top:3.6px;font-family:DejaVu Sans,sans-serif;font-size:18.3px;line-height:20px;color:#454b56;display:inline-block;transform:scaleY(0.96);transform-origin:0 0">▼</span>

<svg width="120" height="28" style="position:absolute;left:3095px;top:0" viewBox="0 0 120 28">
 <g fill="#f2faff" stroke="#2b6fb3" stroke-width="1.7">
  <rect x="5.6" y="1.7" width="22.5" height="22"/>
  <rect x="33.6" y="1.7" width="22.4" height="22"/>
  <rect x="61.6" y="1.7" width="22.4" height="22"/>
  <rect x="89.7" y="1.7" width="22.4" height="22"/>
 </g>
 <g fill="#1f66ad">
  <rect x="15.1" y="4.4" width="3.3" height="4.2"/><rect x="15.1" y="11.4" width="3.3" height="2.6"/><rect x="15.1" y="16.3" width="3.3" height="4.7"/>
  <rect x="8.2" y="11.4" width="4.8" height="2.6"/><rect x="20.3" y="11.4" width="5.1" height="2.6"/>
 </g>
 <g stroke="#2d6aa5" stroke-width="1.7" fill="none">
  <path d="M38.7 6V21M36.3 18.6H52.5"/>
  <path d="M66.6 6V21M64.7 18.6H79.5M72 16V18.6"/>
  <path d="M93.4 5.2H98V19.7H93.4Z" stroke="#3d6d96" stroke-width="1.6"/>
 </g>
 <path d="M44 5.8V15.6" stroke="#3f7a9a" stroke-width="1.5"/>
 <g fill="#2d6aa5">
  <path d="M36.5 7.6L38.7 4.4L40.9 7.6Z"/><path d="M36.8 20.2L38.7 22.6L40.6 20.2Z"/><path d="M51 16.6L54.3 18.6L51 20.6Z"/>
  <path d="M64.4 7.6L66.6 4.4L68.8 7.6Z"/><path d="M64.7 20.2L66.6 22.6L68.5 20.2Z"/><path d="M78 16.6L81.3 18.6L78 20.6Z"/>
 </g>
 <g fill="#1f74c8">
  <path d="M50.2 6.5L45.6 10.3L50.2 14.2Z"/>
  <path d="M71.2 6.3L79.6 11.3L71.2 16.3Z"/>
  <path d="M95.7 11.4H103.3V14H95.7Z"/><path d="M102.6 8.4L108.6 12.7L102.6 17Z"/>
 </g>
</svg>
</div></body></html>
